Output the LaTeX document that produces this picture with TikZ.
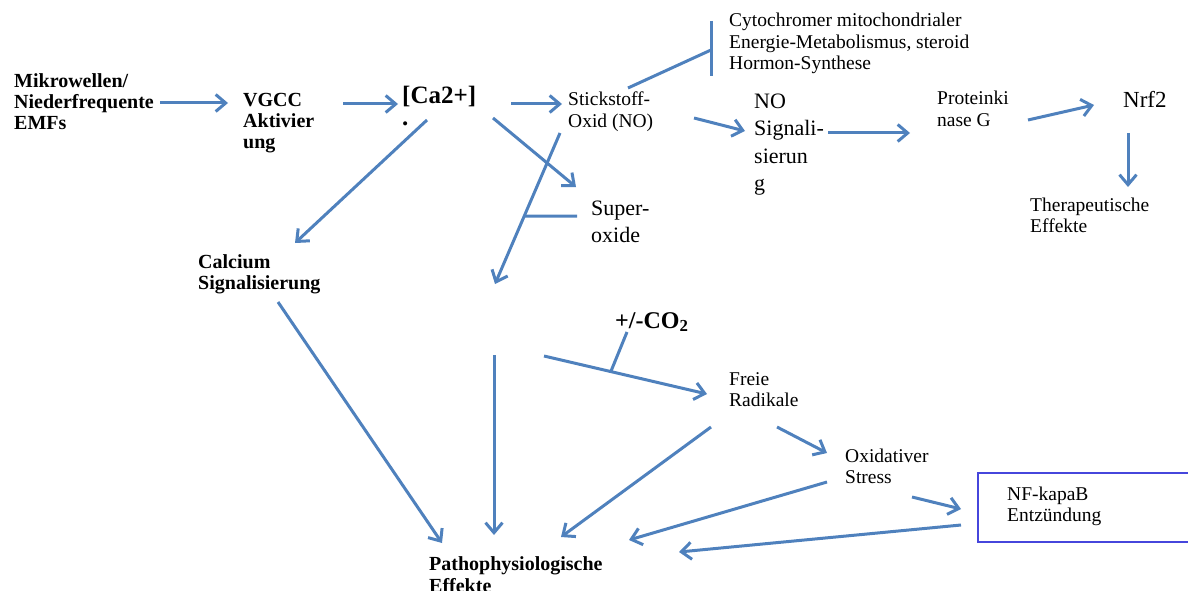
\documentclass[tikz,border=0pt]{standalone}
\usepackage{fontspec}
\setmainfont{Liberation Serif}
\usetikzlibrary{calc,arrows.meta}
\definecolor{arrowblue}{HTML}{4F81BD}
\definecolor{boxblue}{HTML}{4646DC}

\begin{document}
\begin{tikzpicture}[x=1pt,y=-1pt,
  txt/.style={anchor=base west,inner sep=0pt,align=left,font=\fontsize{19.5}{21.5}\selectfont},
  bold/.style={txt,font=\fontsize{20}{21}\selectfont\bfseries},
  big/.style={txt,font=\fontsize{22}{27.5}\selectfont},
  arr/.style={draw=arrowblue,line width=3pt,-{Straight Barb[length=10pt,width=17pt]}},
  bar/.style={draw=arrowblue,line width=3pt},
  nfbox/.style={draw=boxblue,line width=2pt}]
 \useasboundingbox (0,0) rectangle (1188,591);
 \clip (0,0) rectangle (1188,591);

 \node[bold] (mw)    at (14,130)    {Mikrowellen/\\Niederfrequente\\EMFs};
 \node[bold] (vgcc)  at (243,149)   {VGCC\\Aktivier\\ung};
 \node[bold,font=\fontsize{25}{21}\selectfont\bfseries] (ca) at (402,125) {[Ca2+]\\.};
 \node[txt]  (sno)   at (568,127.5) {Stickstoff-\\Oxid (NO)};
 \node[txt]  (cyto)  at (729,70)    {Cytochromer mitochondrialer\\Energie-Metabolismus, steroid\\Hormon-Synthese};
 \node[big]  (nosig) at (754,190.5) {NO\\Signali-\\sierun\\g};
 \node[txt]  (pkg)   at (937,126.5) {Proteinki\\nase G};
 \node[big,font=\fontsize{23}{27}\selectfont] (nrf) at (1123,108) {Nrf2};
 \node[txt]  (ther)  at (1030,232.5) {Therapeutische\\Effekte};
 \node[bold] (calc)  at (198,289)   {Calcium\\Signalisierung};
 \node[big,font=\fontsize{22}{27}\selectfont] (sup) at (591,242) {Super-\\oxide};
 \node[bold,font=\fontsize{24}{24}\selectfont\bfseries] (co2) at (615,328) {+/-CO\textsubscript{2}};
 \node[txt]  (frei)  at (729,406.5) {Freie\\Radikale};
 \node[txt]  (oxs)   at (845,483.5) {Oxidativer\\Stress};
 \node[txt]  (nfkb)  at (1007,521.5) {NF-kapaB\\Entz\"undung};
 \node[bold,font=\fontsize{20}{22}\selectfont\bfseries] (patho) at (429,592) {Pathophysiologische\\Effekte};
 \coordinate (pn) at (494,320);

 \draw[nfbox] ($(nfkb.base west)+(-29,-48.5)$) rectangle ++(240,69);

 \draw[arr] ($(mw.base west)+(146,-27)$) -- ($(vgcc.base west)+(-15,-46)$);
 \draw[arr] ($(vgcc.base west)+(100,-45)$) -- ($(ca.base west)+(-4,-21)$);
 \draw[arr] ($(ca.base west)+(109,-21)$) -- ($(sno.base west)+(-6,-23.5)$);
 \draw[bar] ($(sno.base west)+(60,-39.5)$) -- ($(cyto.base west)+(-18,-20)$);
 \draw[bar] ($(cyto.base west)+(-18,-49)$) -- ($(cyto.base west)+(-18,6)$);
 \draw[arr] ($(sno.base west)+(126,-9.5)$) -- ($(nosig.base west)+(-9,-59.5)$);
 \draw[arr] ($(nosig.base west)+(74,-57.5)$) -- ($(pkg.base west)+(-27,6.5)$);
 \draw[arr] ($(pkg.base west)+(91,-6.5)$) -- ($(nrf.base west)+(-29,-3)$);
 \draw[arr] ($(nrf.base west)+(5,25)$) -- ($(ther.base west)+(98,-45.5)$);
 \draw[arr] ($(ca.base west)+(25,-5)$) -- ($(calc.base west)+(97,-46)$);
 \draw[arr] ($(ca.base west)+(91,-7)$) -- ($(sup.base west)+(-15,-55)$);
 \draw[arr] ($(sno.base west)+(-8,5.5)$) -- coordinate[pos=0.55] (tj) ($(pn)+(1,-36)$);
 \draw[bar] (tj) -- ($(sup.base west)+(-14,-26)$);
 \draw[arr] ($(pn)+(0,35)$) -- ($(patho.base west)+(65,-57)$);
 \draw[arr] ($(pn)+(50,36)$) -- coordinate[pos=0.41] (cj) ($(frei.base west)+(-22,-12.5)$);
 \draw[bar] (cj) -- ($(co2.base west)+(12,4)$);
 \draw[arr] ($(frei.base west)+(-18,20.5)$) -- ($(patho.base west)+(132,-55)$);
 \draw[arr] ($(frei.base west)+(48,20.5)$) -- ($(oxs.base west)+(-18,-30.5)$);
 \draw[arr] ($(oxs.base west)+(-18,-1.5)$) -- ($(patho.base west)+(200,-52)$);
 \draw[arr] ($(oxs.base west)+(67,13.5)$) -- ($(nfkb.base west)+(-46,-12.5)$);
 \draw[arr] ($(nfkb.base west)+(-46,3.5)$) -- ($(patho.base west)+(250,-40)$);
 \draw[arr] ($(calc.base west)+(80,13)$) -- ($(patho.base west)+(13,-49)$);
\end{tikzpicture}
\end{document}
